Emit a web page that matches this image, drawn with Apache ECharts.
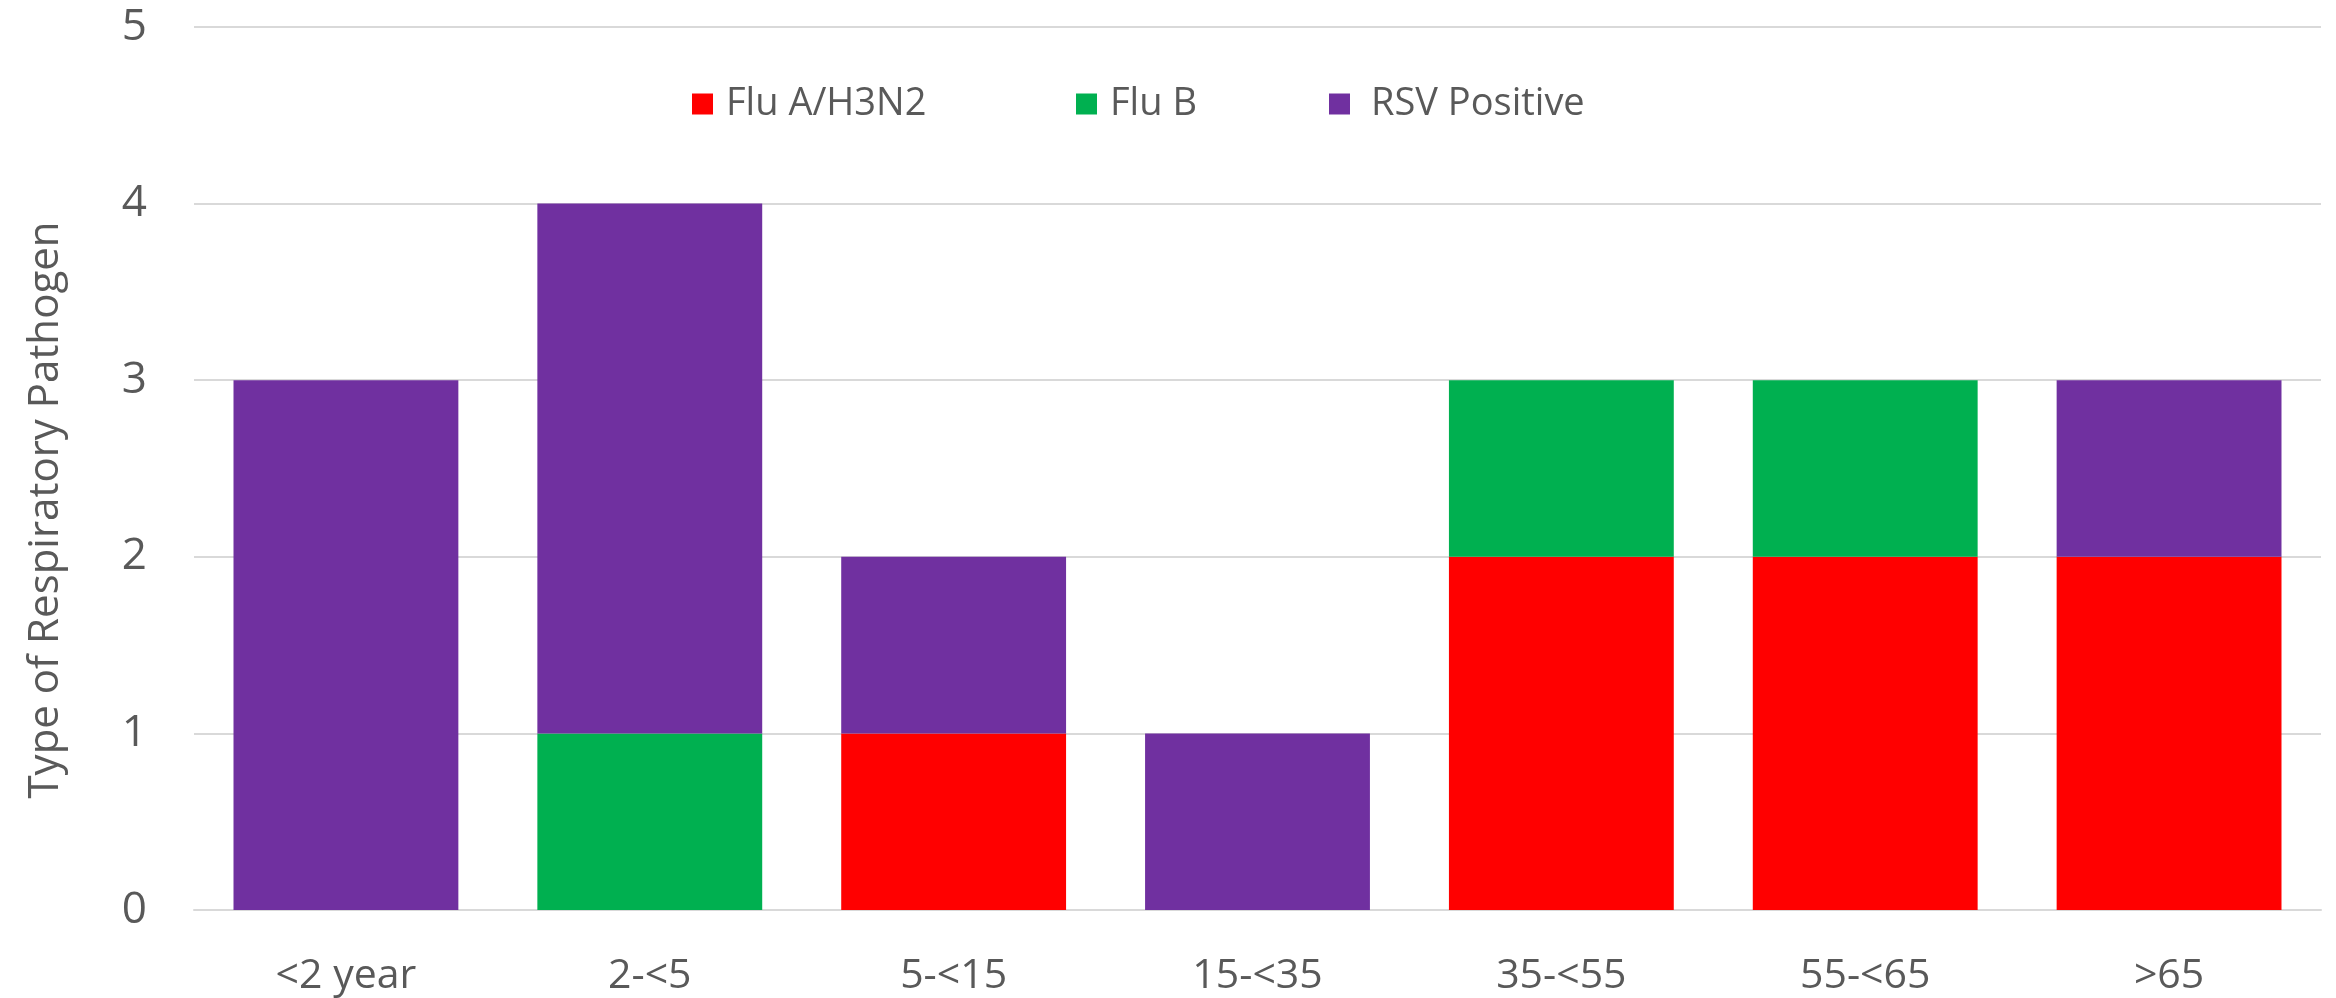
<!DOCTYPE html>
<html>
<head>
<meta charset="utf-8">
<script src="https://cdn.jsdelivr.net/npm/echarts@6/dist/echarts.min.js"></script>
<style>
  html, body { margin: 0; padding: 0; background: #fff; }
  #chart { width: 2336px; height: 998px; }
</style>
</head>
<body>
<div id="chart"></div>
<script>
  // age groups on the x axis
  var ageGroups = ['<2 year', '2-<5', '5-<15', '15-<35', '35-<55', '55-<65', '>65'];

  // counts per pathogen, one value per age group
  var fluA = [0, 0, 1, 0, 2, 2, 2];
  var fluB = [0, 1, 0, 0, 1, 1, 0];
  var rsv  = [3, 3, 1, 1, 0, 0, 1];

  var seriesNames = ['Flu A/H3N2', 'Flu B', 'RSV Positive'];
  var COLORS = ['#ff0000', '#00b050', '#7030a0'];
  var yTicks = [0, 1, 2, 3, 4, 5];

  var FONT = '"Open Sans", sans-serif';
  var TEXT = '#595959';

  function toData(arr) {
    return arr.map(function(v) { return v === 0 ? null : v; });
  }

  // one legend per item so each sits where Excel put it
  function legendAt(name, left, gap) {
    return {
      data: [name],
      left: left,
      top: 80,
      itemWidth: 21,
      itemHeight: 21,
      itemGap: 0,
      icon: 'rect',
      textStyle: { color: TEXT, fontSize: 38, fontFamily: FONT, padding: [0, 0, 0, gap] },
      selectedMode: false
    };
  }

  var chart = echarts.init(document.getElementById('chart'));
  chart.setOption({
    animation: false,
    color: COLORS,
    grid: { left: 194, right: 15, top: 27, bottom: 88 },
    legend: [
      legendAt(seriesNames[0], 687, 8),
      legendAt(seriesNames[1], 1071, 8),
      legendAt(seriesNames[2], 1324, 16)
    ],
    graphic: [{
      type: 'text',
      x: 46,
      y: 510,
      rotation: Math.PI / 2,
      style: {
        text: 'Type of Respiratory Pathogen',
        fill: TEXT,
        fontSize: 42,
        fontFamily: FONT,
        textAlign: 'center',
        textVerticalAlign: 'middle'
      }
    }],
    xAxis: {
      type: 'category',
      data: ageGroups,
      axisLine: { show: true, lineStyle: { color: '#d9d9d9', width: 2 } },
      axisTick: { show: false },
      axisLabel: { color: TEXT, fontSize: 41, fontFamily: FONT, margin: 46 }
    },
    yAxis: {
      type: 'value',
      min: yTicks[0],
      max: yTicks[yTicks.length - 1],
      interval: 1,
      axisLine: { show: false },
      axisTick: { show: false },
      splitLine: { lineStyle: { color: '#d9d9d9', width: 2 } },
      axisLabel: { color: TEXT, fontSize: 44, fontFamily: FONT, margin: 47 }
    },
    series: [
      { name: seriesNames[0], type: 'bar', stack: 'total', data: toData(fluA), barWidth: '74%' },
      { name: seriesNames[1], type: 'bar', stack: 'total', data: toData(fluB), barWidth: '74%' },
      { name: seriesNames[2], type: 'bar', stack: 'total', data: toData(rsv), barWidth: '74%' }
    ]
  });
</script>
</body>
</html>
